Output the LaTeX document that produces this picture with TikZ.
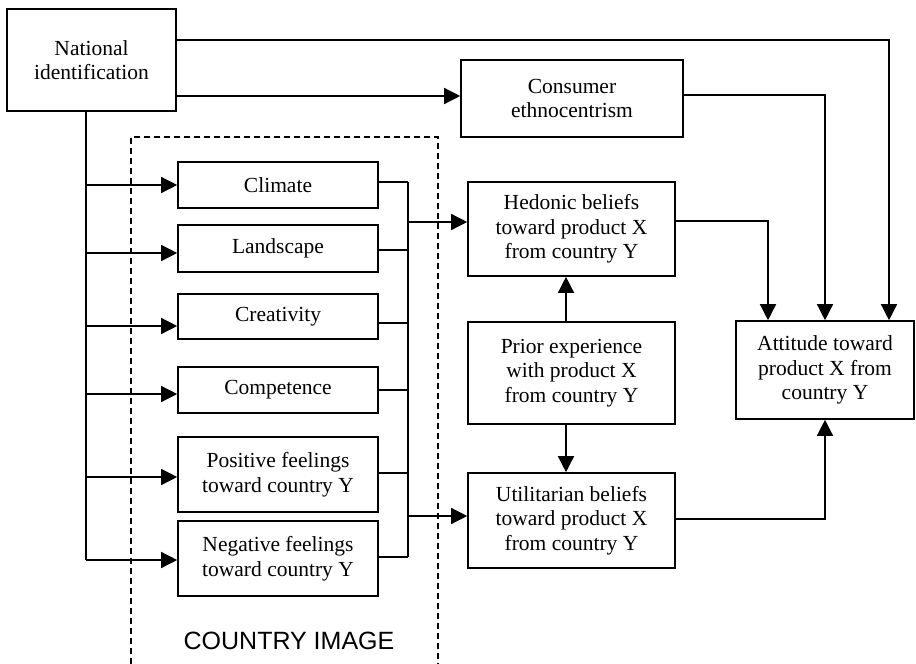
\documentclass[tikz,border=0pt]{standalone}
\usepackage{fontspec}
\setmainfont{Liberation Serif}
\newfontfamily\capsans{Liberation Sans}
\usetikzlibrary{arrows.meta,calc}
\begin{document}
\begin{tikzpicture}[x=1pt,y=-1pt,
  box/.style={draw, line width=1.6pt, inner sep=0pt, align=center,
    font=\fontsize{21.5}{24.5}\selectfont},
  conn/.style={line width=1.4pt},
  arr/.style={conn, -{Triangle[length=16pt,width=16pt]}},
  dbox/.style={line width=1.3pt, dash pattern=on 6pt off 4pt},
]
\useasboundingbox (0,0) rectangle (916,664);

\node[box, minimum width=169pt, minimum height=102pt] (ni) at (91.5,60) {National\\identification};
\node[box, minimum width=222pt, minimum height=77pt] (ce) at (572,98.5) {Consumer\\ethnocentrism};

\node[box, minimum width=200pt, minimum height=46pt] (clim) at (278,185) {Climate};
\node[box, minimum width=200pt, minimum height=47pt] (land) at (278,248.5) {Landscape};
\node[box, minimum width=200pt, minimum height=45pt] (crea) at (278,316.5) {Creativity};
\node[box, minimum width=200pt, minimum height=46pt] (comp) at (278,390) {Competence};
\node[box, minimum width=200pt, minimum height=75pt] (pos) at (278,474.5) {Positive feelings\\toward country Y};
\node[box, minimum width=200pt, minimum height=75pt] (neg) at (278,558.5) {Negative feelings\\toward country Y};

\node[box, minimum width=207pt, minimum height=94pt] (hed) at (571.5,229) {Hedonic beliefs\\toward product X\\from country Y};
\node[box, minimum width=207pt, minimum height=102pt] (prior) at (571.5,373) {Prior experience\\with product X\\from country Y};
\node[box, minimum width=207pt, minimum height=95pt] (util) at (571.5,520.5) {Utilitarian beliefs\\toward product X\\from country Y};

\node[box, minimum width=178pt, minimum height=98pt] (att) at (825,370) {Attitude toward\\product X from\\country Y};

\draw[dbox] (131,664) -- (131,137) -- (438,137) -- (438,664);
\node[font=\capsans\fontsize{25}{25}\selectfont, inner sep=0pt] (ci) at (289,641) {COUNTRY IMAGE};

% left bus from National identification
\coordinate (lb) at ($(ni.south)+(-5.5,0)$);
\draw[conn] (lb) -- ($(lb |- neg.west)+(0,1.5)$);
\foreach \n/\d in {clim/0, land/4.5, crea/9.5, comp/4, pos/2.5, neg/1.5}
  \draw[arr] ($(lb |- \n.west)+(0,\d)$) -- ($(\n.west)+(0,\d)$);

% right bus of the country image
\coordinate (rb) at (408,0);
\foreach \n/\d in {clim/-3, land/1.5, crea/6.5, comp/0, pos/-1.5, neg/-1.5}
  \draw[conn] ($(\n.east)+(0,\d)$) -- ($(rb |- \n.east)+(0,\d)$);
\draw[conn] ($(rb |- clim.east)+(0,-3)$) -- ($(rb |- neg.east)+(0,-1.5)$);
\draw[arr] ($(rb |- hed.west)+(0,-7)$) -- ($(hed.west)+(0,-7)$);
\draw[arr] ($(rb |- util.west)+(0,-4.5)$) -- ($(util.west)+(0,-4.5)$);

% National identification to the right
\coordinate (tr) at (889,40);
\draw[arr] (ni.east |- tr) -- (tr) -- (tr |- att.north);
\draw[arr] ($(ni.east |- ce.west)+(0,-2.5)$) -- ($(ce.west)+(0,-2.5)$);

% into attitude
\draw[arr] ($(ce.east)+(0,-3.5)$) -| (att.north);
\draw[arr] ($(hed.east)+(0,-8)$) -| ($(att.north)+(-57,0)$);
\draw[arr] ($(util.east)+(0,-1.5)$) -| (att.south);

% prior experience
\draw[arr] ($(prior.north)+(-5.5,0)$) -- ($(hed.south)+(-5.5,0)$);
\draw[arr] ($(prior.south)+(-5.5,0)$) -- ($(util.north)+(-5.5,0)$);
\end{tikzpicture}
\end{document}
